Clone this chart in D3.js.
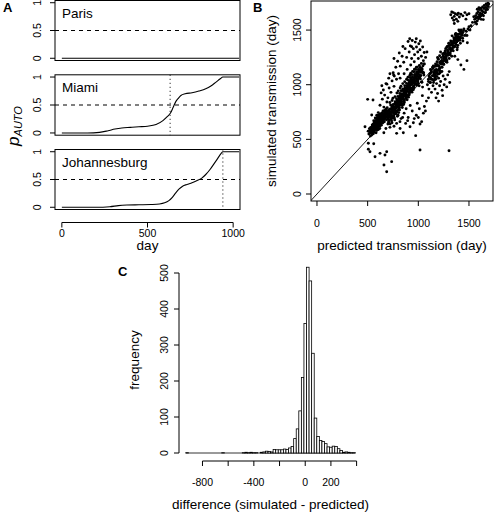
<!DOCTYPE html>
<html><head><meta charset="utf-8">
<script src="https://cdn.jsdelivr.net/npm/d3@7"></script>
<style>body{margin:0;background:#fff}svg{display:block;font-family:"Liberation Sans",Arial,Helvetica,sans-serif}</style>
</head><body><svg id="c" width="496" height="515"></svg>
<script>
// ---------- Panel A data ----------
const cities = ["Paris", "Miami", "Johannesburg"];
const parisCurve = [[0,0],[1035,0]];
const miamiCurve = [[0,0],[150,0],[220,0.01],[270,0.04],[310,0.07],[350,0.09],[400,0.1],[450,0.11],[500,0.12],[550,0.15],[590,0.22],[615,0.29],[635,0.36],[650,0.46],[665,0.56],[680,0.62],[695,0.67],[720,0.7],[760,0.72],[800,0.75],[840,0.79],[870,0.84],[900,0.91],[925,0.97],[940,1],[1035,1]];
const joburgCurve = [[0,0],[200,0],[280,0.01],[330,0.03],[380,0.04],[450,0.045],[520,0.05],[570,0.06],[600,0.08],[625,0.12],[645,0.18],[665,0.26],[685,0.33],[705,0.38],[730,0.41],[760,0.44],[790,0.48],[815,0.52],[840,0.59],[865,0.68],[890,0.79],[910,0.88],[930,0.97],[940,1],[1035,1]];
const transitionDay = [null, 632, 940];
const pTicks = [0, 0.5, 1];
const dayTicks = [0, 500, 1000];

// ---------- Panel B data: [predicted, simulated] (days) ----------
const clusterLow = [
[512,548],[520,560],[525,575],[530,590],[535,555],[540,600],[545,570],[548,620],[552,585],[555,640],[558,600],[560,565],[563,615],[566,650],[570,590],[572,630],[575,670],[578,605],[580,645],[583,560],[585,690],[588,625],[590,660],[593,600],[595,700],[598,640],[600,675],[603,615],[605,655],[608,720],[610,690],[612,635],[615,665],[618,700],[620,600],[622,680],[625,645],[628,715],[630,660],[632,690],[635,630],[638,740],[640,700],[642,670],[645,720],[648,650],[650,690],[652,760],[655,710],[658,680],[660,735],[662,700],[665,660],[668,750],[670,720],[672,690],[675,770],[678,730],[680,705],[683,755],[686,680],[690,740],[693,790],[696,715],[700,760],[540,540],[548,565],[556,552],[565,578],[574,620],[582,598],[590,582],[598,610],[606,590],[614,648],[622,622],[630,640],[638,665],[646,690],[654,670],[662,725],[530,610],[545,632],[560,670],[575,695],[590,720],[605,745],[527,530],[517,598],[505,575],
[543,586],[551,611],[557,577],[562,628],[568,603],[571,651],[577,622],[584,668],[587,611],[592,642],[597,688],[601,629],[606,669],[611,702],[616,651],[619,684],[624,731],[629,673],[634,711],[637,685],[643,742],[647,705],[653,729],[657,696],[661,761],[666,718],[671,745],[676,709],[681,778],[687,731],[692,762],[697,741]];
const bandMid = [
[701,689],[703,702],[706,658],[709,647],[711,731],[714,773],[717,715],[719,837],[722,749],[725,733],[727,814],[730,683],[733,696],[735,713],[738,694],[741,855],[743,777],[746,750],[749,876],[751,813],[754,768],[757,795],[759,713],[762,737],[765,731],[767,678],[770,891],[773,838],[775,756],[778,787],[781,810],[783,797],[786,747],[789,924],[791,855],[794,711],[797,809],[799,825],[802,942],[805,771],[807,745],[810,876],[813,792],[815,769],[818,895],[821,970],[823,835],[826,852],[829,987],[831,918],[834,863],[837,877],[839,815],[842,791],[845,947],[847,1010],[850,908],[853,894],[855,818],[858,835],[861,838],[863,863],[866,1028],[869,967],[871,921],[874,931],[877,946],[879,954],[882,883],[885,1050],[887,990],[890,862],[893,976],[895,970],[898,1068],[901,905],[903,886],[906,1011],[909,926],[911,908],[914,1030],[917,1087],[919,993],[922,998],[925,1105],[927,1051],[930,1014],[933,1021],[935,949],[938,932],[941,1068],[943,1122],[946,1043],[949,1038],[951,955],[954,971],[957,974],[959,991],[962,1142],[965,1087],[967,1057],[970,1064],[973,1077],[975,1088],[978,1012],[981,1160],[983,1107],[986,996],[989,1109],[991,1098],[994,1048],[997,1033],[999,1015],[1003,1126],[1008,990],[1012,1138],[1017,1079],[1021,1053],[1026,1114],[1031,1025],[1036,1023],[1042,978],[1048,1107],[1055,1089],
[704,728],[709,671],[713,756],[718,702],[722,640],[727,781],[731,722],[736,668],[740,799],[744,745],[749,712],[753,820],[758,769],[762,694],[767,742],[771,845],[776,790],[780,735],[785,871],[789,808],[794,762],[798,893],[803,836],[807,784],[812,857],[816,920],[821,815],[825,883],[830,945],[834,848],[839,906],[843,821],[848,962],[852,890],[857,935],[861,852],[866,991],[870,917],[875,966],[879,880],[884,1012],[888,943],[893,988],[897,905],[902,1040],[906,972],[911,1013],[915,934],[920,1066],[924,1001],[929,1045],[933,957],[938,1092],[942,1021],[947,1067],[951,985],[956,1118],[960,1049],[965,1093],[969,1010],[974,1140],[978,1072],[983,1118],[987,1036],[992,1161],[996,1097],[1001,1140],[1005,1062],[1010,1176],[1015,1120],[1020,1158],[1025,1085],[1030,1195],[1038,1137],[1045,1172],[1052,1110],[1060,1190],
[706,707],[712,680],[716,737],[723,717],[729,773],[734,720],[739,757],[745,717],[748,786],[755,763],[761,791],[764,753],[769,822],[774,779],[779,799],[782,760],[788,835],[793,800],[796,853],[801,820],[806,842],[811,811],[817,867],[820,895],[824,834],[828,861],[833,833],[836,887],[841,909],[846,874],[849,870],[854,920],[859,862],[862,912],[868,949],[872,894],[876,934],[881,926],[886,965],[889,907],[894,966],[899,939],[904,1000],[908,958],[913,975],[918,951],[921,1005],[926,969],[931,1029],[936,1001],[939,968],[944,1026],[950,1047],[955,1017],[958,1036],[964,1007],[968,1082],[972,1031],[977,1076],[982,1059],[985,1039],[990,1082],[995,1110],[1000,1072],[1006,1094],[1013,1064],[1019,1133],[1027,1115],[1035,1148],[1044,1113],[1053,1189]];
const armUpper = [
[622,812],[645,868],[633,925],[660,795],[668,905],[690,842],[655,951],[700,880],[712,970],[681,1010],[730,930],[741,1035],[708,1060],[760,985],[752,1110],[785,1050],[778,1160],[805,1100],[796,1215],[822,1170],[840,1260],[812,1290],[856,1205],[870,1330],[848,1350],[885,1250],[899,1395],[910,1300],[921,1355],[934,1240],[940,1405],[951,1330],[963,1275],[970,1390],[982,1345],[994,1300],[1005,1375],[1016,1320],[1030,1260],[1043,1345],[1058,1295],[1072,1250],[1085,1300],[925,1180],[960,1210],[1000,1240],[1050,1220],[890,1140],[860,1100],[820,1060],[720,1100],[760,1240],[690,1005],[640,990],[1020,1400],[980,1420],[915,1420]];
const bandHigh = [
[1100,1050],[1105,1080],[1110,1070],[1115,1020],[1120,1140],[1125,1110],[1130,1120],[1135,1050],[1140,1160],[1145,1150],[1150,1020],[1155,1090],[1160,1130],[1165,1070],[1170,1190],[1175,1170],[1180,1110],[1185,1210],[1190,1250],[1195,1240],[1200,1170],[1205,1100],[1210,1130],[1215,1200],[1220,1300],[1225,1200],[1230,1220],[1235,1160],[1240,1280],[1245,1260],[1250,1190],[1255,1250],[1260,1290],[1265,1310],[1270,1330],[1275,1210],[1280,1340],[1285,1350],[1290,1300],[1295,1270],[1300,1380],[1305,1240],[1310,1360],[1315,1290],[1320,1400],[1325,1390],[1330,1260],[1335,1320],[1340,1380],[1345,1310],[1350,1430],[1355,1420],[1360,1350],[1365,1460],[1370,1470],[1375,1450],[1380,1400],[1385,1340],[1390,1360],[1395,1440],[1400,1500],[1405,1420],[1410,1430],[1415,1380],[1420,1490],[1425,1470],[1430,1480],[1440,1400],[1450,1510],[1460,1450],
[1122,1062],[1148,1171],[1172,1118],[1198,1232],[1222,1188],[1248,1287],[1272,1243],[1298,1358],[1322,1311],[1348,1402],[1372,1367],[1398,1461],[1160,1098],[1210,1265],[1260,1226],[1310,1342],[1360,1411],[1410,1407],
[1113,1098],[1127,1131],[1138,1083],[1152,1112],[1163,1168],[1177,1139],[1188,1183],[1203,1141],[1213,1209],[1227,1248],[1238,1197],[1252,1235],[1263,1296],[1277,1262],[1288,1318],[1302,1287],[1313,1331],[1327,1372],[1338,1336],[1352,1379],[1363,1425],[1377,1391],[1388,1437],[1402,1418],[1413,1486],[1427,1455],[1437,1425],[1446,1497],[1183,1075],[1233,1121],[1283,1205],[1333,1447],[1383,1320],
[1150,1043],[1156,1102],[1161,1050],[1167,1090],[1172,1050],[1178,1125],[1184,1102],[1189,1130],[1195,1098],[1201,1171],[1206,1129],[1212,1152],[1218,1119],[1223,1194],[1229,1161],[1235,1220],[1240,1189],[1246,1214],[1252,1186],[1257,1242],[1263,1276],[1269,1219],[1274,1249],[1280,1224],[1286,1284],[1291,1308],[1297,1275],[1303,1278],[1308,1329],[1314,1274],[1320,1330],[1325,1367],[1331,1317],[1337,1361],[1342,1354],[1348,1396],[1354,1344],[1359,1404],[1365,1381],[1371,1445],[1376,1406],[1382,1425],[1388,1405],[1393,1463],[1399,1429],[1405,1493],[1410,1466],[1416,1440],[1422,1500],[1428,1470],[1434,1455],[1440,1478]];
const belowHigh = [
[1090,1000],[1105,960],[1120,1020],[1130,930],[1145,990],[1155,1040],[1165,960],[1180,1010],[1190,920],[1200,1060],[1210,990],[1220,1030],[1235,950],[1245,1080],[1255,1000],[1265,1050],[1280,980],[1290,1090],[1305,1120],[1240,900],[1175,880],[1150,1080],[1125,1050],[1215,1110],[1100,1030],[1310,1020],[1200,850],[1390,1230],[1420,1180],[1450,1140],[1480,1220],[1360,1260],[1484,1384]];
const clusterTop = [
[1556,1598],[1562,1571],[1566,1632],[1571,1609],[1577,1652],[1581,1584],[1586,1621],[1590,1667],[1594,1603],[1599,1641],[1603,1688],[1607,1619],[1612,1657],[1616,1700],[1621,1634],[1625,1679],[1629,1645],[1634,1712],[1638,1668],[1643,1631],[1647,1697],[1651,1726],[1656,1660],[1660,1708],[1665,1683],[1669,1738],[1674,1702],[1678,1725],[1683,1689],[1687,1745],[1691,1716],[1547,1622],[1598,1705],[1641,1596],[1582,1690],[1620,1598],[1575,1555],[1695,1738],[1662,1660],[1611,1640],
[1320,1640],[1335,1610],[1345,1660],[1355,1625],[1365,1650],[1375,1600],[1385,1640],[1395,1655],[1405,1620],[1420,1645],[1440,1630],[1460,1660],[1480,1640],[1350,1590],[1390,1580],[1330,1665],[1500,1650],[1470,1600],[1355,1560],
[1470,1490],[1490,1510],[1500,1530],[1520,1540],[1535,1570],[1510,1500],[1480,1450]];
const belowMid = [
[740,652],[786,646],[819,662],[875,646],[895,671],[951,652],[1017,640],[918,616],[786,555],[852,561],[974,534],[1033,662],[760,700],[800,720],[830,690],[860,740],[900,700],[940,760],[980,720],[1010,780],[1050,740],[880,780],[920,810],[960,690],[1000,700],[845,700],[760,620],[820,600],[1060,800],[1080,850],[990,830],[1040,900],[1100,880],[1070,760],[700,640],[720,610],[680,600],[660,560],
[474,616],[507,464],[523,387],[573,341],[622,372],[671,357],[688,387],[661,265],[688,204],[737,296],[1017,402],[1303,396],[507,410],[560,460],[500,866],[763,1080],[553,860],[540,723],[934,1348],[756,1089]];
const scatterTicks = [0, 500, 1000, 1500];

// ---------- Panel C data ----------
const histStart = -930;
const histBinWidth = 20;
const histCounts = [1,0,0,0,0,0,0,0,0,0,0,0,0,0,1,0,0,0,0,0,0,0,1,2,1,2,1,1,0,2,3,5,4,3,10,9,9,9,11,10,14,18,40,67,117,210,360,516,478,277,97,46,35,32,26,17,16,19,18,12,7,2,3,2,1,1];
const histXTicks = [-800, -600, -400, -200, 0, 200, 400];
const histXLabels = ["-800", "", "-400", "", "0", "200", ""];
const histYTicks = [0, 100, 200, 300, 400, 500];

// ---------- drawing ----------
const svg = d3.select("#c");
const FS = "10.5px", LFS = "13.5px";

function rotText(g, x, y, txt, size) {
  return g.append("text").attr("transform", `translate(${x},${y}) rotate(-90)`)
    .attr("text-anchor", "middle").attr("font-size", size).text(txt);
}

// Panel A
const xA = d3.scaleLinear().domain([-40, 1040]).range([55, 240]);
const boxesA = [[0.5, 60.5], [74.8, 135.2], [149.5, 209.5]];
const curves = [parisCurve, miamiCurve, joburgCurve];
cities.forEach((city, i) => {
  const [top, bot] = boxesA[i];
  const y = d3.scaleLinear().domain([-0.04, 1.04]).range([bot, top]);
  const g = svg.append("g");
  g.append("rect").attr("x", 55).attr("y", top).attr("width", 185).attr("height", bot - top)
    .attr("fill", "none").attr("stroke", "#000").attr("stroke-width", 1);
  g.append("line").attr("x1", 55).attr("x2", 240).attr("y1", y(0.5)).attr("y2", y(0.5))
    .attr("stroke", "#000").attr("stroke-dasharray", "4,4");
  if (transitionDay[i] != null) {
    g.append("line").attr("x1", xA(transitionDay[i])).attr("x2", xA(transitionDay[i]))
      .attr("y1", top).attr("y2", bot).attr("stroke", "#000").attr("stroke-dasharray", "1,3");
  }
  const line = d3.line().x(d => xA(d[0])).y(d => y(d[1])).curve(d3.curveMonotoneX);
  g.append("path").attr("d", line(curves[i])).attr("fill", "none").attr("stroke", "#000").attr("stroke-width", 1.1);
  pTicks.forEach(t => {
    g.append("line").attr("x1", 50).attr("x2", 55).attr("y1", y(t)).attr("y2", y(t)).attr("stroke", "#000");
    rotText(g, 37, y(t), String(t), FS).attr("dy", "0.35em");
  });
  g.append("text").attr("x", 62).attr("y", top + 17).attr("font-size", LFS).text(city);
});
{
  const g = svg.append("g");
  g.append("line").attr("x1", xA(0)).attr("x2", xA(1000)).attr("y1", 222.5).attr("y2", 222.5).attr("stroke", "#000");
  dayTicks.forEach(t => {
    g.append("line").attr("x1", xA(t)).attr("x2", xA(t)).attr("y1", 222.5).attr("y2", 227.5).attr("stroke", "#000");
    g.append("text").attr("x", xA(t)).attr("y", 233.5).attr("dy", "0.35em").attr("text-anchor", "middle").attr("font-size", FS).text(t);
  });
  g.append("text").attr("x", 147.5).attr("y", 250).attr("text-anchor", "middle").attr("font-size", LFS).text("day");
  const lab = svg.append("text").attr("transform", "translate(19,126) rotate(-90)").attr("text-anchor", "middle")
    .attr("font-style", "italic");
  lab.append("tspan").attr("font-size", "17px").text("p");
  lab.append("tspan").attr("font-size", "11px").attr("dy", "2.5").text("AUTO");
}

// Panel B
{
  const x = d3.scaleLinear().domain([-59, 1737]).range([311, 493]);
  const y = d3.scaleLinear().domain([-64, 1766]).range([201, 1]);
  const g = svg.append("g");
  g.append("clipPath").attr("id", "clipB").append("rect").attr("x", 311).attr("y", 1).attr("width", 182).attr("height", 200);
  g.append("g").attr("clip-path", "url(#clipB)").append("line")
    .attr("x1", x(-100)).attr("y1", y(-100)).attr("x2", x(1800)).attr("y2", y(1800))
    .attr("stroke", "#000").attr("stroke-width", 0.9);
  const pts = [].concat(clusterLow, bandMid, armUpper, bandHigh, belowHigh, clusterTop, belowMid);
  g.append("g").selectAll("circle").data(pts).join("circle")
    .attr("cx", d => x(d[0])).attr("cy", d => y(d[1])).attr("r", 1.45).attr("fill", "#000");
  g.append("rect").attr("x", 311).attr("y", 1).attr("width", 182).attr("height", 200)
    .attr("fill", "none").attr("stroke", "#000");
  scatterTicks.forEach(t => {
    g.append("line").attr("x1", x(t)).attr("x2", x(t)).attr("y1", 201).attr("y2", 206).attr("stroke", "#000");
    g.append("text").attr("x", x(t)).attr("y", 223).attr("dy", "0.35em").attr("text-anchor", "middle").attr("font-size", FS).text(t);
    g.append("line").attr("x1", 306).attr("x2", 311).attr("y1", y(t)).attr("y2", y(t)).attr("stroke", "#000");
    rotText(g, 297, y(t), String(t), FS).attr("dy", "0.35em");
  });
  g.append("text").attr("x", 402).attr("y", 250).attr("text-anchor", "middle").attr("font-size", LFS).text("predicted transmission (day)");
  rotText(g, 275.5, 101, "simulated transmission (day)", LFS);
}

// Panel C
{
  const x = d3.scaleLinear().domain([-982.8, 442.8]).range([179, 362.1]);
  const y = d3.scaleLinear().domain([0, 500]).range([453, 273]);
  const g = svg.append("g");
  const bins = histCounts.map((c, i) => ({x0: histStart + i * histBinWidth, x1: histStart + (i + 1) * histBinWidth, n: c}));
  g.append("line").attr("x1", x(bins[0].x0)).attr("x2", x(bins[bins.length - 1].x1))
    .attr("y1", y(0)).attr("y2", y(0)).attr("stroke", "#000").attr("stroke-width", 0.8);
  g.selectAll("rect.bar").data(bins.filter(d => d.n > 0)).join("rect").attr("class", "bar")
    .attr("x", d => x(d.x0)).attr("width", d => x(d.x1) - x(d.x0))
    .attr("y", d => y(d.n)).attr("height", d => y(0) - y(d.n))
    .attr("fill", "#fff").attr("stroke", "#000").attr("stroke-width", 0.8);
  g.append("line").attr("x1", 179).attr("x2", 179).attr("y1", y(0)).attr("y2", y(500)).attr("stroke", "#000");
  histYTicks.forEach(t => {
    g.append("line").attr("x1", 174).attr("x2", 179).attr("y1", y(t)).attr("y2", y(t)).attr("stroke", "#000");
    rotText(g, 164, y(t), String(t), FS).attr("dy", "0.35em");
  });
  g.append("line").attr("x1", x(-800)).attr("x2", x(400)).attr("y1", 461).attr("y2", 461).attr("stroke", "#000");
  histXTicks.forEach((t, i) => {
    g.append("line").attr("x1", x(t)).attr("x2", x(t)).attr("y1", 461).attr("y2", 466).attr("stroke", "#000");
    if (histXLabels[i]) g.append("text").attr("x", x(t)).attr("y", 482.5).attr("dy", "0.35em").attr("text-anchor", "middle").attr("font-size", FS).text(histXLabels[i]);
  });
  g.append("text").attr("x", 270.5).attr("y", 509).attr("text-anchor", "middle").attr("font-size", LFS).text("difference (simulated - predicted)");
  rotText(g, 139, 360, "frequency", LFS);
}

// Panel letters
svg.append("text").attr("x", 3).attr("y", 12).attr("font-size", "13px").attr("font-weight", "bold").text("A");
svg.append("text").attr("x", 253).attr("y", 11.5).attr("font-size", "13px").attr("font-weight", "bold").text("B");
svg.append("text").attr("x", 118).attr("y", 276).attr("font-size", "13px").attr("font-weight", "bold").text("C");
</script></body></html>
